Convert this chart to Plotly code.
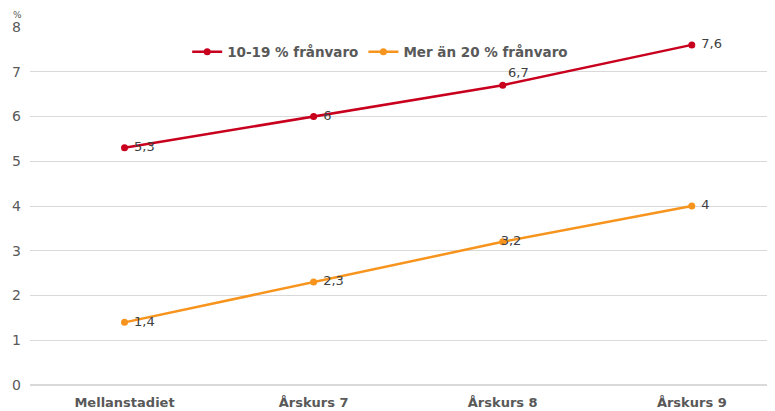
import plotly.graph_objects as go

kategorier = ["Mellanstadiet", "Årskurs 7", "Årskurs 8", "Årskurs 9"]
franvaro_10_19 = [5.3, 6.0, 6.7, 7.6]
franvaro_20 = [1.4, 2.3, 3.2, 4.0]
etikett_10_19 = [" 5,3", " 6", "6,7", " 7,6"]
etikett_20 = [" 1,4", " 2,3", "    3,2", " 4"]

fig = go.Figure()
fig.add_trace(go.Scatter(
    x=kategorier, y=franvaro_10_19, name="<b>10-19 % frånvaro</b>",
    mode="lines+markers+text", text=etikett_10_19,
    textposition=["middle right", "middle right", "top right", "middle right"],
    line=dict(color="#C8001E", width=2.5), marker=dict(size=7),
    textfont=dict(color="#404040", size=13),
))
fig.add_trace(go.Scatter(
    x=kategorier, y=franvaro_20, name="<b>Mer än 20 % frånvaro</b>",
    mode="lines+markers+text", text=etikett_20,
    textposition=["middle right", "middle right", "middle center", "middle right"],
    line=dict(color="#F7941D", width=2.5), marker=dict(size=7),
    textfont=dict(color="#404040", size=13),
))

# sidan har 8 px marginal runt figuren
fig.update_layout(
    width=767, height=403,
    margin=dict(l=22, r=0, t=19, b=26, autoexpand=False),
    plot_bgcolor="white", paper_bgcolor="white",
    font=dict(family="DejaVu Sans, Verdana", color="#595959", size=13),
    legend=dict(orientation="h", x=0.211, y=0.93, xanchor="left", yanchor="middle",
                font=dict(size=13.5, color="#595959"),
                bgcolor="rgba(0,0,0,0)"),
)
fig.layout.annotations = [dict(text="%", x=-0.026, y=1.053, xref="paper", yref="paper",
                               showarrow=False, xanchor="left", yanchor="top",
                               font=dict(size=9, color="#595959"))]
fig.update_xaxes(range=[-0.5, 3.44], showgrid=False, showline=False, ticks="",
                 automargin=False, ticklabelstandoff=8,
                 tickfont=dict(size=13, color="#595959", family="DejaVu Sans"),
                 tickprefix="<b>", ticksuffix="</b>")
fig.update_yaxes(range=[0, 8], dtick=1, gridcolor="#D9D9D9", gridwidth=1,
                 zeroline=True, zerolinecolor="#D9D9D9", showline=False,
                 automargin=False,
                 tickfont=dict(size=14, color="#595959"), ticklabelstandoff=8)

fig.write_html("out.html")
